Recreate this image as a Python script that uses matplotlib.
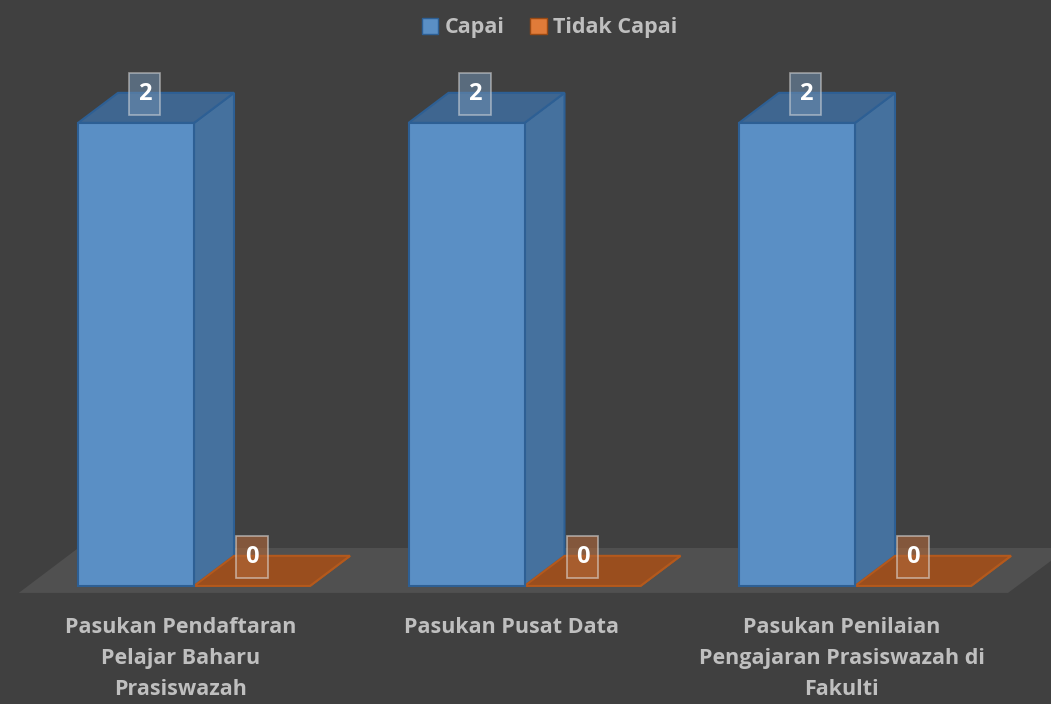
import numpy as np
import matplotlib.pyplot as plt
from matplotlib.patches import Polygon, Patch

plt.rcParams['font.family'] = ['Open Sans', 'DejaVu Sans']

kategori = ["Pasukan Pendaftaran\nPelajar Baharu\nPrasiswazah",
            "Pasukan Pusat Data",
            "Pasukan Penilaian\nPengajaran Prasiswazah di\nFakulti"]
capai = [2, 2, 2]
tidak_capai = [0, 0, 0]
siri = ["Capai", "Tidak Capai"]

bg = "#404040"
lebar = 0.351          # bar width in category units
dx, dy = 0.121, 0.13   # fake 3d depth offset

fig = plt.figure(figsize=(10.51, 7.04), dpi=100, facecolor=bg)
ax = fig.add_axes([0, 0, 1, 1])
ax.set_facecolor(bg)
ax.set_xlim(-0.587, 2.593)
ax.set_ylim(-0.51, 2.531)
ax.axis("off")

# lantai
lantai = Polygon([(-0.53, -0.03), (2.463, -0.03), (2.645, 0.164), (-0.35, 0.164)],
                 closed=True, facecolor="#505050", edgecolor="none", zorder=1)
ax.add_patch(lantai)


def kotak(x0, v, warna_depan, warna_sisi, warna_atas, tepi):
    x1 = x0 + lebar
    depan = [(x0, 0), (x1, 0), (x1, v), (x0, v)]
    sisi = [(x1, 0), (x1 + dx, dy), (x1 + dx, v + dy), (x1, v)]
    atas = [(x0, v), (x1, v), (x1 + dx, v + dy), (x0 + dx, v + dy)]
    ax.add_patch(Polygon(sisi, closed=True, facecolor=warna_sisi, edgecolor=tepi, lw=1.5, zorder=2))
    ax.add_patch(Polygon(atas, closed=True, facecolor=warna_atas, edgecolor=tepi, lw=1.5, zorder=2))
    if v > 0:
        ax.add_patch(Polygon(depan, closed=True, facecolor=warna_depan, edgecolor=tepi, lw=1.5, zorder=3))


x = np.arange(len(kategori))
for i in x:
    kotak(i - lebar, capai[i], "#5A8FC5", "#45719E", "#3F6690", "#2D5F94")
    kotak(i, tidak_capai[i], "#9A4E1E", "#9A4E1E", "#9A4E1E", "#B4591C")

    # label data
    ax.text(i - lebar / 2 + 0.026, capai[i] + 0.125, str(capai[i]),
            ha="center", va="center", color="white", fontsize=17, fontweight="bold", zorder=5,
            bbox=dict(boxstyle="square,pad=0.38", facecolor="#6F8FB0", alpha=0.55,
                      edgecolor="#E0E0E0", lw=1.2))
    ax.text(i + lebar / 2, tidak_capai[i] + 0.125, str(tidak_capai[i]),
            ha="center", va="center", color="white", fontsize=17, fontweight="bold", zorder=5,
            bbox=dict(boxstyle="square,pad=0.38", facecolor="#B0683A", alpha=0.6,
                      edgecolor="#E0E0E0", lw=1.2))

    ax.text(i - 0.04, -0.135, kategori[i], ha="center", va="top", color="#BFBFBF",
            fontsize=15.5, fontweight="bold", linespacing=1.62)

tangan = [Patch(facecolor="#5A8FC5", edgecolor="#2D5F94", label=siri[0]),
          Patch(facecolor="#E07B39", edgecolor="#9A4A14", label=siri[1])]
leg = fig.legend(handles=tangan, loc="upper center", bbox_to_anchor=(0.523, 1.003), ncol=2,
                 frameon=False, handlelength=0.75, handleheight=0.75, handletextpad=0.3,
                 columnspacing=1.2, prop={"weight": "bold", "size": 15.5})
for t in leg.get_texts():
    t.set_color("#BFBFBF")

fig.savefig("out.png", dpi=100, facecolor=bg)
